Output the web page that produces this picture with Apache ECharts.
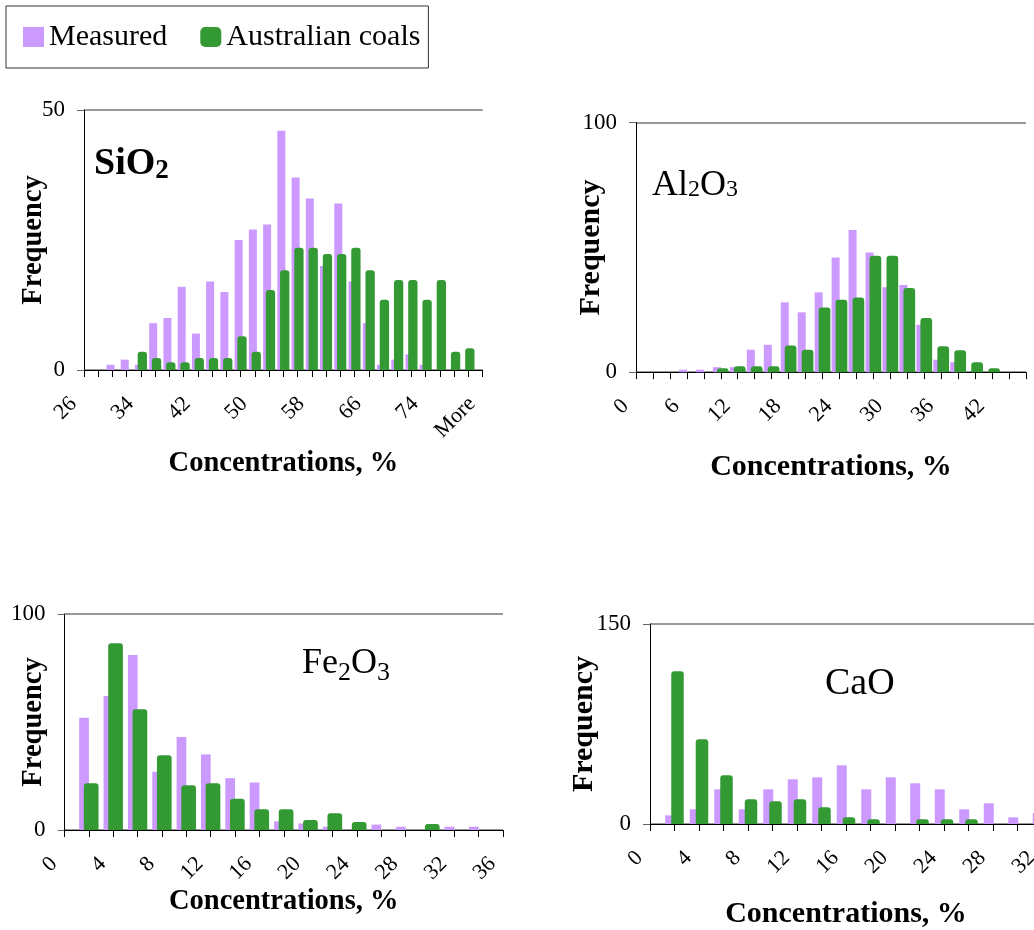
<!DOCTYPE html>
<html>
<head>
<meta charset="utf-8">
<title>Oxide concentration histograms</title>
<script src="https://cdn.jsdelivr.net/npm/echarts@6/dist/echarts.min.js"></script>
<style>
  html, body { margin: 0; padding: 0; background: #fff; overflow: hidden; }
  #main { width: 1034px; height: 930px; }
</style>
</head>
<body>
<div id="main"></div>
<script>
var serif = 'Liberation Serif';

// SiO2
var sioCats = ['26','28','30','32','34','36','38','40','42','44','46','48','50','52','54','56','58','60','62','64','66','68','70','72','74','76','78','80','More'];
var sioMeasured = [0,0,1,2,1,9,10,16,7,17,15,25,27,28,46,37,33,20,32,17,9,1,2,3,1,0,0,0,0];
var sioAustralian = [0,0,0,0,3.5,2.3,1.5,1.5,2.3,2.3,2.3,6.5,3.5,15.4,19.2,23.5,23.5,22.3,22.3,23.5,19.2,13.5,17.3,17.3,13.5,17.3,3.5,4.2,0];

// Al2O3
var alCats = ['0','2','4','6','8','10','12','14','16','18','20','22','24','26','28','30','32','34','36','38','40','42','44','46'];
var alMeasured = [0,0,0,1,1,2,2,9,11,28,24,32,46,57,48,34,35,19,5,4,0,0,0,0];
var alAustralian = [0,0,0,0,0,1.6,2.4,2.4,2.4,10.7,9,25.9,29,29.9,46.7,46.7,33.7,21.7,10.4,8.8,4,1.6,0,0];

// Fe2O3
var feCats = ['0','2','4','6','8','10','12','14','16','18','20','22','24','26','28','30','32','34','36'];
var feMeasured = [0,52,62,81,27,43,35,24,22,4,3,1.5,0,2.5,1.5,0,1.5,1.5,0];
var feAustralian = [0,21.6,86.5,55.9,34.6,20.7,21.6,14.5,9.6,9.6,4.6,7.7,3.7,0,0,2.8,0,0,0];

// CaO
var caCats = ['0','2','4','6','8','10','12','14','16','18','20','22','24','26','28','30','32'];
var caMeasured = [0,6.5,11,26,11,26,33.5,35,44,26,35,30.5,26,11,15.5,5,8];
var caAustralian = [0,114.5,63.5,36.5,18.5,17,18.5,12.5,5,3.5,0,3.5,3.5,3.5,0,0,0];

var panels = [
  {cats: sioCats, m: sioMeasured, a: sioAustralian, max: 50,
   grid: {left: 84, top: 110, width: 398.7, height: 260},
   labelInt: 3, pw: 8, gw: 9.3, gap: '-66%', xGap: 79, yGap: 36, nameSize: 28.5},
  {cats: alCats, m: alMeasured, a: alAustralian, max: 100,
   grid: {left: 636, top: 122.7, width: 390, height: 249.5},
   labelInt: 2, pw: 8, gw: 11.7, gap: '-50%', xGap: 80, yGap: 30, nameSize: 30},
  {cats: feCats, m: feMeasured, a: feAustralian, max: 100,
   grid: {left: 64.5, top: 614, width: 438.5, height: 216},
   labelInt: 1, pw: 9.7, gw: 14.7, gap: '-52%', xGap: 57, yGap: 16, nameSize: 28.5},
  {cats: caCats, m: caMeasured, a: caAustralian, max: 150,
   grid: {left: 650, top: 624, width: 392, height: 200},
   labelInt: 1, pw: 10, gw: 12.5, gap: '-40%', xGap: 75, yGap: 51, nameSize: 30}
];

var grids = [], xAxes = [], yAxes = [], series = [];
panels.forEach(function (p, i) {
  var g = p.grid;
  grids.push({left: g.left, top: g.top, width: g.width, height: g.height, outerBoundsMode: 'none'});
  xAxes.push({
    gridIndex: i, type: 'category', data: p.cats, boundaryGap: false,
    name: 'Concentrations, %', nameLocation: 'middle', nameGap: p.xGap, nameMoveOverlap: false,
    nameTextStyle: {fontFamily: serif, fontWeight: 'bold', fontSize: p.nameSize, color: '#000'},
    axisLine: {show: true, lineStyle: {color: '#000', width: 1}},
    axisTick: {show: true, interval: 0, length: 7, lineStyle: {color: '#000'}},
    axisLabel: {interval: p.labelInt, rotate: 45, fontFamily: serif, fontSize: 22, color: '#000',
                margin: 20, padding: [0, 15, 0, 0]},
    splitLine: {show: false}
  });
  yAxes.push({
    gridIndex: i, type: 'value', min: 0, max: p.max, interval: p.max,
    name: 'Frequency', nameLocation: 'middle', nameGap: p.yGap, nameMoveOverlap: false,
    nameTextStyle: {fontFamily: serif, fontWeight: 'bold', fontSize: p.nameSize, color: '#000'},
    axisLine: {show: true, lineStyle: {color: '#000', width: 1}},
    axisTick: {show: true, length: 7, lineStyle: {color: '#666'}},
    axisLabel: {fontFamily: serif, fontSize: 23, color: '#000', margin: 19},
    splitLine: {show: true, lineStyle: {color: '#777', width: 1.5}}
  });
  series.push({
    name: 'Measured', type: 'bar', xAxisIndex: i, yAxisIndex: i, data: p.m,
    barWidth: p.pw, barGap: p.gap, itemStyle: {color: '#cc99ff'}
  });
  series.push({
    name: 'Australian coals', type: 'bar', xAxisIndex: i, yAxisIndex: i, data: p.a,
    barWidth: p.gw, barGap: p.gap, itemStyle: {color: '#339933', borderRadius: [3, 3, 0, 0]}
  });
});

function sub(size, subSize, weight, pad) {
  return {
    m: {fontFamily: serif, fontSize: size, fontWeight: weight, color: '#000', lineHeight: size + 8},
    s: {fontFamily: serif, fontSize: subSize, fontWeight: weight, color: '#000', lineHeight: subSize, padding: [pad, 0, 0, 0]}
  };
}

var chart = echarts.init(document.getElementById('main'));
chart.setOption({
  animation: false,
  backgroundColor: '#fff',
  title: [
    {text: '{m|SiO}{s|2}', left: 94, top: 141, padding: 0, textStyle: {rich: sub(38, 27, 'bold', 14)}},
    {text: '{m|Al}{s|2}{m|O}{s|3}', left: 652, top: 164, padding: 0, textStyle: {rich: sub(36, 24, 'normal', 7)}},
    {text: '{m|Fe}{s|2}{m|O}{s|3}', left: 302, top: 642, padding: 0, textStyle: {rich: sub(36, 26, 'normal', 18)}},
    {text: '{m|CaO}', left: 825, top: 661, padding: 0, textStyle: {rich: sub(38, 26, 'normal', 0)}}
  ],
  legend: {
    left: 6, top: 6, orient: 'horizontal',
    padding: [16, 8, 16, 17],
    borderColor: '#333', borderWidth: 1,
    itemWidth: 21, itemHeight: 20, itemGap: 33, itemTextGap: 10,
    selectedMode: false,
    textStyle: {fontFamily: serif, fontSize: 30, color: '#000'},
    data: [{name: 'Measured', icon: 'rect'}, {name: 'Australian coals', icon: 'roundRect'}]
  },
  grid: grids,
  xAxis: xAxes,
  yAxis: yAxes,
  series: series
});
</script>
</body>
</html>
